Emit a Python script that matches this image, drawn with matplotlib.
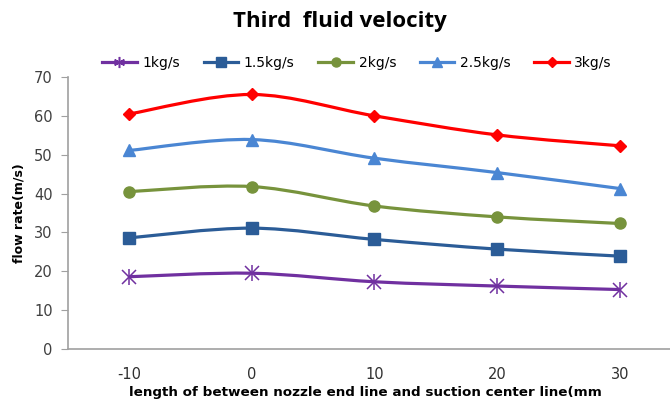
import numpy as np
import matplotlib
matplotlib.use("Agg")
import matplotlib.pyplot as plt
from matplotlib.path import Path
from matplotlib.patches import PathPatch
from matplotlib.lines import Line2D

# distance from nozzle end line to suction center line (mm)
positions = [-10, 0, 10, 20, 30]
series_names = ["1kg/s", "1.5kg/s", "2kg/s", "2.5kg/s", "3kg/s"]
v_1 = [18.6, 19.5, 17.3, 16.2, 15.3]
v_15 = [28.6, 31.1, 28.2, 25.7, 23.9]
v_2 = [40.5, 41.8, 36.8, 34.0, 32.3]
v_25 = [51.1, 53.9, 49.1, 45.4, 41.3]
v_3 = [60.5, 65.5, 60.0, 55.1, 52.3]

colors = ["#7030A0", "#2B5C97", "#77933C", "#4A86D3", "#FF0000"]
markers = ["star", "s", "o", "^", "D"]
msizes = [10, 8, 8, 8.5, 6.5]


def smooth_path(xs, ys):
    # catmull-rom style bezier through the points, like a spreadsheet smoothed line
    pts = np.column_stack([xs, ys]).astype(float)
    n = len(pts)
    verts = [pts[0]]
    codes = [Path.MOVETO]
    for i in range(n - 1):
        p0 = pts[i - 1] if i > 0 else pts[i]
        p1 = pts[i]
        p2 = pts[i + 1]
        p3 = pts[i + 2] if i + 2 < n else pts[i + 1]
        c1 = p1 + (p2 - p0) / 6.0
        c2 = p2 - (p3 - p1) / 6.0
        verts += [c1, c2, p2]
        codes += [Path.CURVE4] * 3
    return Path(verts, codes)


fig = plt.figure(figsize=(6.7, 4.04), dpi=100)
ax = fig.add_axes([68 / 670, 55 / 404, 613 / 670, 272 / 404])

handles = []
for vals, c, m, ms in zip([v_1, v_15, v_2, v_25, v_3], colors, markers, msizes):
    ax.add_patch(PathPatch(smooth_path(positions, vals), fill=False,
                           edgecolor=c, lw=2.3, zorder=3))
    if m == "star":
        ax.plot(positions, vals, ls="none", marker="x", ms=ms, mew=1.1, color=c, zorder=4)
        ax.plot(positions, vals, ls="none", marker="|", ms=ms + 2, mew=1.1, color=c, zorder=4)
        h = Line2D([], [], color=c, lw=2.3, marker=(6, 2, 0), ms=ms - 2, mew=1.1)
    else:
        ax.plot(positions, vals, ls="none", marker=m, ms=ms, color=c, mec=c, zorder=4)
        h = Line2D([], [], color=c, lw=2.3, marker=m, ms=ms - 1.5, mec=c)
    handles.append(h)

ax.set_xlim(-15, 35)
ax.set_ylim(0, 70)
ax.set_yticks(range(0, 80, 10))
ax.set_xticks(positions)
ax.set_xticklabels([str(p) for p in positions])

for s in ["top", "right"]:
    ax.spines[s].set_visible(False)
for s in ["left", "bottom"]:
    ax.spines[s].set_color("#A0A0A0")
    ax.spines[s].set_linewidth(1.2)
ax.tick_params(axis="y", direction="out", length=5, color="#A0A0A0",
               labelsize=10.5, labelcolor="#404040", pad=6)
ax.tick_params(axis="x", length=0, labelsize=10.5, labelcolor="#303030", pad=13)

ax.set_ylabel("flow rate(m/s)", fontsize=9, fontweight="bold", labelpad=6)
ax.set_xlabel("length of between nozzle end line and suction center line(mm",
              fontsize=9.7, fontweight="bold", labelpad=4)
ax.xaxis.set_label_coords(297 / 613, -37 / 272)

fig.text(340 / 670, 1 - 22 / 404, "Third  fluid velocity", fontsize=16,
         fontweight="bold", ha="center", va="center", family="Open Sans")

fig.legend(handles, series_names, loc="center", ncol=5, frameon=False,
           bbox_to_anchor=(357 / 670, 1 - 63 / 404), fontsize=10,
           handlelength=2.5, columnspacing=1.7, handletextpad=0.4)

fig.savefig("out.png", dpi=100)
